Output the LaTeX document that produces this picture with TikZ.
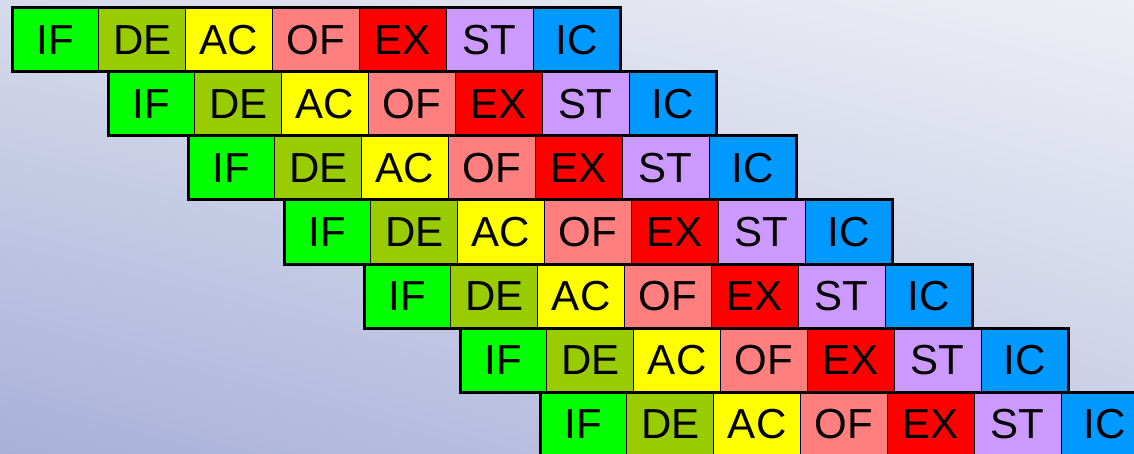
\documentclass[tikz,border=0pt]{standalone}
\usepackage{fontspec}
\setmainfont{Liberation Sans}
\usepackage{tikz}
\usetikzlibrary{positioning}
\usetikzlibrary{shadings}

\definecolor{ifcol}{HTML}{00FF00}
\definecolor{decol}{HTML}{99CC00}
\definecolor{accol}{HTML}{FFFF00}
\definecolor{ofcol}{HTML}{FF7F7F}
\definecolor{excol}{HTML}{FF0000}
\definecolor{stcol}{HTML}{CC99FF}
\definecolor{iccol}{HTML}{0099FF}
\definecolor{bgtl}{HTML}{D6DAEB}
\definecolor{bgtr}{HTML}{EEEFF5}
\definecolor{bgbl}{HTML}{A8B0D8}
\definecolor{bgbr}{HTML}{C8CDE6}

\begin{document}
\begin{tikzpicture}[x=1pt,y=1pt,
    stage/.style={draw=black, line width=1pt, minimum width=86.86pt,
        minimum height=64pt, inner sep=0pt, outer sep=0pt,
        font=\fontsize{42}{42}\selectfont}]
    \clip (0,0) rectangle (1134,453);
    \shade[upper left=bgtl, upper right=bgtr, lower left=bgbl, lower right=bgbr]
        (0,0) rectangle (1134,453);

    % one row per instruction, each one shifted right
    \foreach \x [count=\r] in {12,108,188,284,364,460,540} {
        \node[stage, fill=ifcol, anchor=north west] (if\r) at (\x,{445-64*(\r-1)}) {IF};
        \node[stage, fill=decol, right=0pt of if\r] (de\r) {DE};
        \node[stage, fill=accol, right=0pt of de\r] (ac\r) {AC};
        \node[stage, fill=ofcol, right=0pt of ac\r] (of\r) {OF};
        \node[stage, fill=excol, right=0pt of of\r] (ex\r) {EX};
        \node[stage, fill=stcol, right=0pt of ex\r] (st\r) {ST};
        \node[stage, fill=iccol, right=0pt of st\r] (ic\r) {IC};
        \draw[line width=3pt] (if\r.north west) rectangle (ic\r.south east);
    }
\end{tikzpicture}
\end{document}
